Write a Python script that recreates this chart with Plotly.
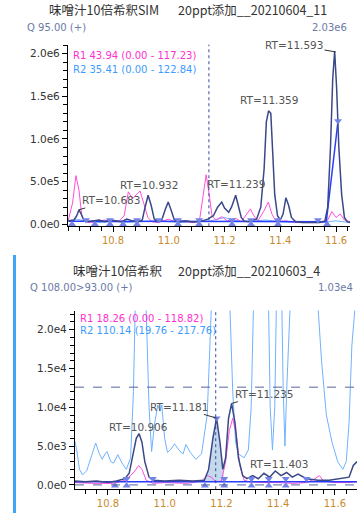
import plotly.graph_objects as go

# ---------------- TOP PANEL: 味噌汁10倍希釈SIM 20ppt添加__20210604_11 (intensity in 1e6) -------------
top_navy_t = [10.640, 10.66, 10.67, 10.678, 10.686, 10.695, 10.71, 10.73, 10.75, 10.77, 10.79, 10.81, 10.83,
              10.85, 10.87, 10.89, 10.905, 10.915, 10.926, 10.937, 10.948, 10.96, 10.975, 10.988, 10.998,
              11.008, 11.02, 11.04, 11.06, 11.08, 11.10, 11.12, 11.14, 11.16, 11.175, 11.19, 11.20, 11.215,
              11.225, 11.24, 11.25, 11.26, 11.27, 11.285, 11.30, 11.315, 11.33, 11.342, 11.35, 11.358,
              11.366, 11.372, 11.38, 11.39, 11.40, 11.41, 11.42, 11.43, 11.44, 11.455, 11.48, 11.51, 11.54,
              11.56, 11.57, 11.58, 11.588, 11.595, 11.602, 11.61, 11.62, 11.63, 11.64, 11.65]
top_navy_v = [0.04, 0.05, 0.10, 0.17, 0.12, 0.05, 0.03, 0.04, 0.05, 0.03, 0.05, 0.04, 0.03,
              0.06, 0.04, 0.03, 0.05, 0.20, 0.34, 0.22, 0.06, 0.03, 0.05, 0.18, 0.26,
              0.17, 0.05, 0.03, 0.04, 0.03, 0.03, 0.04, 0.06, 0.10, 0.20, 0.26, 0.19, 0.14,
              0.20, 0.34, 0.22, 0.08, 0.04, 0.03, 0.05, 0.06, 0.20, 0.65, 1.20, 1.33,
              1.30, 0.80, 0.35, 0.10, 0.05, 0.12, 0.31, 0.22, 0.08, 0.03, 0.02, 0.02, 0.02,
              0.04, 0.20, 0.90, 1.70, 2.03, 1.60, 0.90, 0.35, 0.08, 0.03, 0.02]

top_pink_t = [10.640, 10.655, 10.667, 10.678, 10.688, 10.70, 10.72, 10.75, 10.77, 10.79, 10.82, 10.84, 10.855,
              10.87, 10.885, 10.897, 10.91, 10.925, 10.94, 10.96, 10.98, 11.00, 11.02, 11.04, 11.06, 11.09,
              11.11, 11.12, 11.134, 11.145, 11.155, 11.17, 11.19, 11.21, 11.24, 11.26, 11.28, 11.293,
              11.305, 11.32, 11.34, 11.357, 11.37, 11.385, 11.42, 11.45, 11.50, 11.55, 11.57, 11.585,
              11.60, 11.615, 11.63, 11.65]
top_pink_v = [0.05, 0.25, 0.57, 0.40, 0.10, 0.03, 0.02, 0.04, 0.05, 0.03, 0.03, 0.10, 0.38,
              0.30, 0.35, 0.39, 0.25, 0.08, 0.03, 0.02, 0.04, 0.06, 0.03, 0.05, 0.03, 0.02,
              0.04, 0.25, 0.58, 0.35, 0.10, 0.05, 0.09, 0.04, 0.07, 0.03, 0.12, 0.18,
              0.10, 0.04, 0.15, 0.26, 0.12, 0.03, 0.04, 0.02, 0.02, 0.02, 0.05, 0.15,
              0.08, 0.12, 0.05, 0.03]

top_lblue_t = [10.640, 10.67, 10.70, 10.75, 10.80, 10.85, 10.90, 10.95, 11.00, 11.05, 11.10, 11.15, 11.20,
               11.23, 11.27, 11.30, 11.35, 11.40, 11.45, 11.50, 11.55, 11.60, 11.65]
top_lblue_v = [0.03, 0.06, 0.04, 0.02, 0.03, 0.02, 0.03, 0.04, 0.03, 0.02, 0.03, 0.04, 0.08,
               0.05, 0.03, 0.04, 0.05, 0.03, 0.02, 0.02, 0.02, 0.04, 0.02]

top_base_t = [10.640, 11.565, 11.607]
top_base_v = [0.035, 0.03, 1.21]

top_down_t = [10.703, 10.789, 10.886, 10.965, 11.033, 11.109, 11.227, 11.295, 11.392, 11.535, 11.607]
top_down_v = [0.05, 0.05, 0.05, 0.05, 0.05, 0.05, 0.05, 0.05, 0.05, 0.05, 1.21]
top_up_t = [10.653, 10.735, 10.789, 10.836, 10.886, 11.033, 11.109, 11.227, 11.295, 11.392, 11.568]
top_up_v = [0.0] * len(top_up_t)

top_rt_labels = ["RT=10.683", "RT=10.932", "RT=11.239", "RT=11.359", "RT=11.593"]
top_rt_text_t = [10.793, 10.929, 11.2395, 11.358, 11.449]
top_rt_text_v = [0.279, 0.457, 0.469, 1.457, 2.105]
top_rt_peak_t = [10.678, None, None, None, 11.598]
top_rt_peak_v = [0.17, None, None, None, 2.02]

top_y_ticks = [0.0, 0.5, 1.0, 1.5, 2.0]
top_y_ticktext = ["0.0e0", "5.0e5", "1.0e6", "1.5e6", "2.0e6"]
top_cursor_t = 11.144

# ---------------- BOTTOM PANEL: 味噌汁10倍希釈 20ppt添加__20210603_4 (intensity in 1e4) ----------------
bot_navy_t = [10.684, 10.72, 10.76, 10.80, 10.83, 10.86, 10.875, 10.89, 10.90, 10.91, 10.92, 10.93, 10.945,
              10.96, 11.00, 11.05, 11.10, 11.14, 11.155, 11.17, 11.183, 11.195, 11.205, 11.215, 11.225,
              11.236, 11.248, 11.26, 11.275, 11.29, 11.31, 11.33, 11.35, 11.37, 11.39, 11.41, 11.43,
              11.45, 11.47, 11.50, 11.54, 11.58, 11.62, 11.65, 11.665, 11.678]
bot_navy_v = [0.05, 0.04, 0.05, 0.03, 0.05, 0.08, 0.15, 0.40, 0.60, 0.66, 0.55, 0.30, 0.10,
              0.06, 0.05, 0.06, 0.05, 0.06, 0.20, 0.60, 0.86, 0.55, 0.20, 0.35, 0.85,
              1.05, 0.80, 0.35, 0.12, 0.08, 0.12, 0.08, 0.15, 0.10, 0.18, 0.12, 0.16,
              0.10, 0.14, 0.08, 0.06, 0.06, 0.08, 0.10, 0.25, 0.30]

bot_pink_t = [10.684, 10.75, 10.82, 10.86, 10.88, 10.895, 10.908, 10.92, 10.935, 10.96, 11.00, 11.08, 11.13,
              11.15, 11.165, 11.18, 11.20, 11.215, 11.228, 11.24, 11.252, 11.265, 11.28, 11.30, 11.35,
              11.40, 11.45, 11.50, 11.53, 11.545, 11.56, 11.60, 11.65, 11.678]
bot_pink_v = [0.03, 0.02, 0.02, 0.06, 0.12, 0.18, 0.25, 0.20, 0.06, 0.02, 0.03, 0.02, 0.05,
              0.12, 0.10, 0.04, 0.05, 0.30, 0.70, 0.86, 0.65, 0.25, 0.06, 0.04, 0.03,
              0.03, 0.02, 0.03, 0.08, 0.12, 0.05, 0.03, 0.03, 0.04]

bot_lblue_t = [10.684, 10.69, 10.70, 10.71, 10.725, 10.74, 10.757, 10.77, 10.78, 10.79, 10.797, 10.81, 10.82,
               10.835, 10.85, 10.865, 10.88, 10.89, 10.898, 10.915, 10.932, 10.945,
               10.954, 10.965, 10.976, 10.984, 10.99, 11.00, 11.01, 11.02, 11.035, 11.05, 11.065, 11.075,
               11.09, 11.11, 11.13, 11.15, 11.162, 11.168, 11.195, 11.222, 11.23,
               11.24, 11.25, 11.26, 11.28, 11.295, 11.305, 11.315, 11.34, 11.365, 11.372, 11.38, 11.388,
               11.395, 11.41, 11.418, 11.424, 11.43, 11.45, 11.50, 11.535, 11.553, 11.57, 11.59, 11.61,
               11.628, 11.64, 11.65, 11.66, 11.678]
bot_lblue_v = [0.56, 0.45, 0.20, 0.13, 0.18, 0.35, 0.54, 0.40, 0.33, 0.40, 0.43, 0.30, 0.28,
               0.39, 0.28, 0.20, 0.35, 1.20, 2.60, 2.80, 2.60, 1.00,
               0.43, 0.80, 1.03, 0.95, 1.03, 0.60, 0.42, 0.45, 0.53, 0.45, 0.40, 0.52,
               0.42, 0.33, 0.40, 0.90, 2.00, 2.60, 2.90, 2.60, 2.30,
               1.20, 0.55, 0.40, 0.35, 0.45, 1.00, 2.60, 3.00, 2.60, 1.00, 0.45, 1.00,
               2.60, 3.00, 1.20, 0.50, 1.20, 3.00, 3.00, 2.60, 1.60, 0.90, 0.55, 0.30,
               0.20, 0.30, 0.80, 1.80, 2.60]

bot_base_t = [10.684, 11.678]
bot_base_v = [0.04, 0.04]

bot_down_t = [10.866, 10.958, 11.183, 11.21, 11.306, 11.367, 11.427, 11.50]
bot_down_v = [0.08, 0.08, 0.86, 0.08, 0.08, 0.08, 0.08, 0.08]
bot_up_t = [10.825, 10.866, 11.142, 11.21, 11.306, 11.367, 11.427]
bot_up_v = [-0.01] * len(bot_up_t)

bot_area_range = [11.142, 11.21]

bot_rt_labels = ["RT=10.906", "RT=11.181", "RT=11.235", "RT=11.403"]
bot_rt_text_t = [10.909, 11.050, 11.350, 11.403]
bot_rt_text_v = [0.74, 1.006, 1.17, 0.265]
bot_rt_peak_t = [None, 11.183, 11.236, None]
bot_rt_peak_v = [None, 0.86, 1.05, None]

bot_y_ticks = [0.0, 0.5, 1.0, 1.5, 2.0]
bot_y_ticktext = ["0.0e0", "5.0e3", "1.0e4", "1.5e4", "2.0e4"]
bot_cursor_t = 11.18
bot_hline_v = [1.26, 0.0]

x_ticks = [10.8, 11.0, 11.2, 11.4, 11.6]
x_ticktext = ["10.8", "11.0", "11.2", "11.4", "11.6"]

# ---------------- styling ----------------
W, H = 357, 517
NAVY = "#3a4888"
PINK = "#ff4fdc"
LBLUE = "#6fb2ff"
BRIGHT = "#2a3cff"
MARK = "#7384e6"
FONT = "DejaVu Sans"
CJK = "Noto Sans CJK JP"

fig = go.Figure()


def line(x, y, color, width, xa, ya, dash=None):
    fig.add_trace(go.Scatter(x=x, y=y, mode="lines", xaxis=xa, yaxis=ya, showlegend=False,
                             hoverinfo="skip", line=dict(color=color, width=width, dash=dash)))


def marks(x, y, symbol, xa, ya):
    fig.add_trace(go.Scatter(x=x, y=y, mode="markers", xaxis=xa, yaxis=ya, showlegend=False,
                             hoverinfo="skip", marker=dict(symbol=symbol, size=7, color=MARK,
                                                           line=dict(width=0))))


# top
line(top_lblue_t, top_lblue_v, LBLUE, 1, "x", "y")
line(top_pink_t, top_pink_v, PINK, 1, "x", "y")
line(top_base_t, top_base_v, BRIGHT, 1.5, "x", "y")
line(top_navy_t, top_navy_v, NAVY, 1.5, "x", "y")
marks(top_down_t, top_down_v, "triangle-down", "x", "y")
marks(top_up_t, top_up_v, "triangle-up", "x", "y")

# bottom
area = [(t, v) for t, v in zip(bot_navy_t, bot_navy_v) if bot_area_range[0] <= t <= bot_area_range[1]]
ax_t = [bot_area_range[0]] + [a[0] for a in area] + [bot_area_range[1]]
ax_v = [bot_base_v[0]] + [a[1] for a in area] + [bot_base_v[0]]
fig.add_trace(go.Scatter(x=ax_t, y=ax_v, mode="lines", fill="toself", fillcolor="rgba(150,185,220,0.55)",
                         line=dict(width=0), xaxis="x2", yaxis="y2", showlegend=False, hoverinfo="skip"))
line(bot_lblue_t, bot_lblue_v, LBLUE, 1, "x2", "y2")
line(bot_pink_t, bot_pink_v, PINK, 1, "x2", "y2")
line(bot_base_t, bot_base_v, BRIGHT, 1.5, "x2", "y2")
line(bot_navy_t, bot_navy_v, NAVY, 1.5, "x2", "y2")
marks(bot_down_t, bot_down_v, "triangle-down", "x2", "y2")
marks(bot_up_t, bot_up_v, "triangle-up", "x2", "y2")


def px_dom_x(a, b):
    return [a / W, b / W]


def px_dom_y(top, bottom):
    return [1 - bottom / H, 1 - top / H]


xcommon = dict(showline=True, linecolor="black", linewidth=1.2, ticks="outside", ticklen=5,
               tickcolor="black", tickvals=x_ticks, ticktext=x_ticktext, showgrid=False, zeroline=False,
               tickfont=dict(family=FONT, size=10, color="#c98a2c"),
               minor=dict(ticks="outside", ticklen=4, tickcolor="black", tickmode="linear",
                          tick0=10.8, dtick=0.04, showgrid=False))
ycommon = dict(showline=True, linecolor="black", linewidth=1.2, ticks="outside", ticklen=5,
               tickcolor="black", showgrid=False, zeroline=False, tickmode="array",
               tickfont=dict(family=FONT, size=10.5, color="#333333"),
               minor=dict(ticks="outside", ticklen=4, tickcolor="black", tickmode="linear",
                          tick0=0, dtick=0.1, showgrid=False))

fig.update_layout(
    width=W, height=H, margin=dict(l=0, r=0, t=0, b=0),
    paper_bgcolor="white", plot_bgcolor="white", showlegend=False,
    xaxis=dict(xcommon, domain=px_dom_x(68, 350), range=[10.6386, 11.650], anchor="y"),
    yaxis=dict(ycommon, domain=px_dom_y(45, 228), range=[-0.023, 2.105], anchor="x",
               tickvals=top_y_ticks, ticktext=top_y_ticktext),
    xaxis2=dict(xcommon, domain=px_dom_x(75, 357), range=[10.684, 11.678], anchor="y2"),
    yaxis2=dict(ycommon, domain=px_dom_y(313, 493), range=[-0.055, 2.247], anchor="x2",
                tickvals=bot_y_ticks, ticktext=bot_y_ticktext),
)

# cursor lines
fig.add_shape(type="line", xref="x", yref="y domain", x0=top_cursor_t, x1=top_cursor_t, y0=0, y1=1,
              line=dict(color="#3a4aa0", width=1, dash="dot"))
fig.add_shape(type="line", xref="x2", yref="y2 domain", x0=bot_cursor_t, x1=bot_cursor_t, y0=0, y1=1,
              line=dict(color="#3a4aa0", width=1, dash="dot"))
for hv in bot_hline_v:
    fig.add_shape(type="line", xref="x2 domain", yref="y2", x0=0, x1=1, y0=hv, y1=hv,
                  line=dict(color="#5565a0", width=1, dash="dash"))

# left selection bar for bottom panel
fig.add_shape(type="rect", xref="paper", yref="paper", x0=13 / W, x1=16 / W, y0=0, y1=1 - 257 / H,
              line=dict(width=0), fillcolor="#3ea6f2")


def rt(labels, tt, tv, pt, pv, xr, yr):
    for lab, a, b, c, d in zip(labels, tt, tv, pt, pv):
        if c is None:
            fig.add_annotation(x=a, y=b, xref=xr, yref=yr, text=lab, showarrow=False,
                               font=dict(family=FONT, size=10.5, color="#555555"))
        else:
            fig.add_annotation(x=c, y=d, ax=a, ay=b, xref=xr, yref=yr, axref=xr, ayref=yr, text=lab,
                               showarrow=True, arrowhead=0, arrowwidth=1, arrowcolor="#333333",
                               font=dict(family=FONT, size=10.5, color="#555555"))


rt(top_rt_labels, top_rt_text_t, top_rt_text_v, top_rt_peak_t, top_rt_peak_v, "x", "y")
rt(bot_rt_labels, bot_rt_text_t, bot_rt_text_v, bot_rt_peak_t, bot_rt_peak_v, "x2", "y2")


def ptext(x, y, text, size, color, anchor="left", family=FONT):
    fig.add_annotation(x=x / W, y=1 - y / H, xref="paper", yref="paper", text=text, showarrow=False,
                       xanchor=anchor, yanchor="middle", font=dict(family=family, size=size, color=color))


ptext(47, 10, "味噌汁10倍希釈SIM", 12.5, "#333333", "left", CJK)
ptext(176, 10, "20ppt添加__20210604_11", 12.5, "#333333", "left", CJK)
ptext(25, 28, "Q 95.00 (+)", 10, "#6b7aa6")
ptext(349, 28, "2.03e6", 10, "#6b7aa6", "right")
ptext(71, 56, "R1 43.94 (0.00 - 117.23)", 10, "#ff2fd0")
ptext(71, 70, "R2 35.41 (0.00 - 122.84)", 10, "#3d9bff")

ptext(71, 273, "味噌汁10倍希釈", 12.5, "#333333", "left", CJK)
ptext(176, 273, "20ppt添加__20210603_4", 12.5, "#333333", "left", CJK)
ptext(28, 290, "Q 108.00>93.00 (+)", 10, "#6b7aa6")
ptext(355, 290, "1.03e4", 10, "#6b7aa6", "right")
ptext(78, 321, "R1 18.26 (0.00 - 118.82)", 10, "#ff2fd0")
ptext(78, 333, "R2 110.14 (19.76 - 217.76)", 10, "#3d9bff")

fig.write_html("out.html")
